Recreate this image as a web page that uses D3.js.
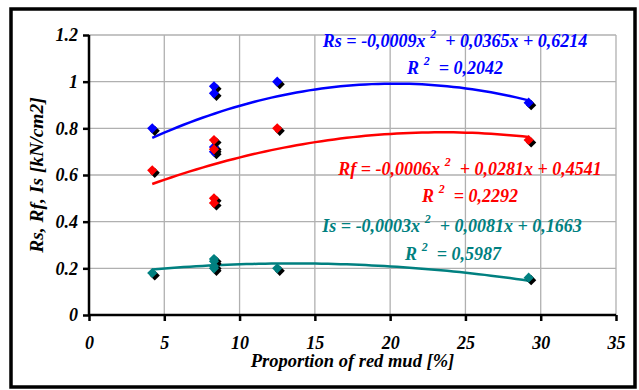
<!DOCTYPE html>
<html>
<head>
<meta charset="utf-8">
<script src="https://cdn.jsdelivr.net/npm/d3@7"></script>
<style>
  body { margin: 0; background: #fff; }
  svg { display: block; }
</style>
</head>
<body>
<div id="chart"></div>
<script>
// data
var xVals  = [4.2, 8.3, 8.3, 8.3, 8.3, 12.5, 29.2];
var rsVals = [0.80, 0.98, 0.95, 0.72, 0.70, 1.00, 0.91];
var rfVals = [0.62, 0.75, 0.71, 0.50, 0.48, 0.80, 0.75];
var isVals = [0.18, 0.24, 0.23, 0.21, 0.20, 0.20, 0.16];

// trendline coefficients [a, b, c] for a*x^2 + b*x + c, and R^2
var rsCoef = [-0.0009, 0.0365, 0.6214];
var rfCoef = [-0.0006, 0.0281, 0.4541];
var isCoef = [-0.0003, 0.0081, 0.1663];
var r2Vals = [0.2042, 0.2292, 0.5987];

var seriesNames = ['Rs', 'Rf', 'Is'];
var xTicks = [0, 5, 10, 15, 20, 25, 30, 35];
var yTicks = [0, 0.2, 0.4, 0.6, 0.8, 1, 1.2];

var width = 639, height = 390;
var padding = {left: 89, right: 23, top: 35, bottom: 75};
var FONT = "'Liberation Serif'";

function serif(sel, size) {
    return sel.style('font-family', FONT)
        .style('font-weight', 'bold')
        .style('font-style', 'italic')
        .style('font-size', size + 'px');
}

var svg = d3.select('#chart').append('svg')
    .attr('width', width)
    .attr('height', height);

//外框
svg.append('rect')
    .attr('x', 11).attr('y', 9)
    .attr('width', 624).attr('height', 378)
    .attr('fill', 'none')
    .attr('stroke', '#000')
    .attr('stroke-width', 3.5);

var xScale = d3.scaleLinear()
    .domain([0, 35])
    .range([padding.left, width - padding.right]);

var yScale = d3.scaleLinear()
    .domain([0, 1.2])
    .range([height - padding.bottom, padding.top]);

// grid
var grid = svg.append('g').attr('stroke', '#b0b0b0').attr('stroke-width', 1.3);
grid.selectAll('.vgrid')
    .data(xTicks.slice(1))
    .enter().append('line')
    .attr('x1', function (d) { return xScale(d); })
    .attr('x2', function (d) { return xScale(d); })
    .attr('y1', yScale(0)).attr('y2', yScale(1.2));
grid.selectAll('.hgrid')
    .data(yTicks.slice(1))
    .enter().append('line')
    .attr('x1', xScale(0)).attr('x2', xScale(35))
    .attr('y1', function (d) { return yScale(d); })
    .attr('y2', function (d) { return yScale(d); });

// axes
var xAxis = d3.axisBottom(xScale).tickValues(xTicks).tickSize(6).tickPadding(15)
    .tickFormat(function (d) { return d; });
var yAxis = d3.axisLeft(yScale).tickValues(yTicks).tickSize(6).tickPadding(5)
    .tickFormat(function (d) { return String(+d.toFixed(1)); });

var gx = svg.append('g')
    .attr('transform', 'translate(0,' + yScale(0) + ')')
    .call(xAxis);
var gy = svg.append('g')
    .attr('transform', 'translate(' + xScale(0) + ',0)')
    .call(yAxis);

[gx, gy].forEach(function (g) {
    g.select('.domain').attr('stroke', '#000').attr('stroke-width', 2.5);
    g.selectAll('.tick line').attr('stroke', '#000').attr('stroke-width', 2.5);
    serif(g.selectAll('.tick text').attr('fill', '#000'), 18);
});
gx.select('.domain').attr('d', 'M' + xScale(0) + ',0H' + xScale(35));
gy.select('.domain').attr('d', 'M0,' + yScale(0) + 'V' + yScale(1.2));

// axis titles
serif(svg.append('text')
    .attr('x', (xScale(0) + xScale(35)) / 2)
    .attr('y', 367)
    .attr('text-anchor', 'middle'), 18.5)
    .text('Proportion of red mud [%]');

serif(svg.append('text')
    .attr('transform', 'translate(43,' + (yScale(0) + yScale(1.2)) / 2 + ') rotate(-90)')
    .attr('text-anchor', 'middle'), 19.5)
    .text('Rs, Rf, Is [kN/cm2]');

var series = [
    {name: seriesNames[0], vals: rsVals, coef: rsCoef, r2: r2Vals[0], color: '#0000ff',
     eq: {x: 455, y: 47}, r2pos: {x: 455, y: 74}},
    {name: seriesNames[1], vals: rfVals, coef: rfCoef, r2: r2Vals[1], color: '#ff0000',
     eq: {x: 470, y: 175}, r2pos: {x: 470, y: 202}},
    {name: seriesNames[2], vals: isVals, coef: isCoef, r2: r2Vals[2], color: '#008080',
     eq: {x: 452, y: 232}, r2pos: {x: 453, y: 260}}
];

var xMin = d3.min(xVals), xMax = d3.max(xVals);
var xs = d3.range(0, 61).map(function (i) { return xMin + (xMax - xMin) * i / 60; });

var line = d3.line()
    .x(function (d) { return xScale(d[0]); })
    .y(function (d) { return yScale(d[1]); });

var diamond = d3.symbol().type(d3.symbolSquare).size(52);

function fmt(v) { return Math.abs(v).toFixed(4).replace('.', ','); }

series.forEach(function (s) {
    var c = s.coef;
    var pts = xs.map(function (x) { return [x, c[0] * x * x + c[1] * x + c[2]]; });

    // trendline
    svg.append('path')
        .datum(pts)
        .attr('d', line)
        .attr('fill', 'none')
        .attr('stroke', s.color)
        .attr('stroke-width', 2.5);

    // markers with shadow
    var g = svg.append('g');
    g.selectAll('.shadow')
        .data(s.vals)
        .enter().append('path')
        .attr('d', diamond)
        .attr('fill', '#000')
        .attr('transform', function (d, i) {
            return 'translate(' + (xScale(xVals[i]) + 2.5) + ',' + (yScale(d) + 2.5) + ') rotate(45)';
        });
    g.selectAll('.mark')
        .data(s.vals)
        .enter().append('path')
        .attr('d', diamond)
        .attr('fill', s.color)
        .attr('transform', function (d, i) {
            return 'translate(' + xScale(xVals[i]) + ',' + yScale(d) + ') rotate(45)';
        });

    // equation label
    var eq = serif(svg.append('text')
        .attr('x', s.eq.x).attr('y', s.eq.y)
        .attr('text-anchor', 'middle')
        .attr('fill', s.color)
        .style('white-space', 'pre'), 18);
    eq.append('tspan').text(s.name + ' = ' + (c[0] < 0 ? '-' : '') + fmt(c[0]) + 'x ');
    eq.append('tspan').attr('dy', -9).style('font-size', '12px').text('2');
    eq.append('tspan').attr('dy', 9)
        .text('  ' + (c[1] < 0 ? '- ' : '+ ') + fmt(c[1]) + 'x ' + (c[2] < 0 ? '- ' : '+ ') + fmt(c[2]));

    var r2 = serif(svg.append('text')
        .attr('x', s.r2pos.x).attr('y', s.r2pos.y)
        .attr('text-anchor', 'middle')
        .attr('fill', s.color)
        .style('white-space', 'pre'), 18);
    r2.append('tspan').text('R ');
    r2.append('tspan').attr('dy', -9).style('font-size', '12px').text('2');
    r2.append('tspan').attr('dy', 9).text('  = ' + fmt(s.r2));
});
</script>
</body>
</html>
